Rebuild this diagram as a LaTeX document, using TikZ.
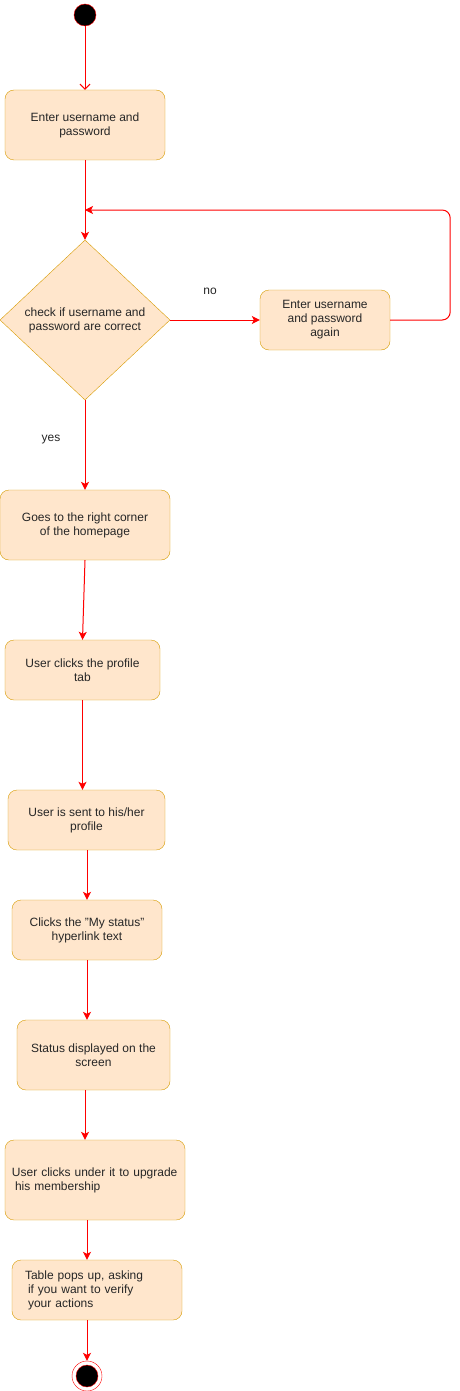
\documentclass[tikz,border=0pt]{standalone}
\usepackage{fontspec}
\setmainfont{Liberation Sans}
\usetikzlibrary{arrows.meta,shapes.geometric}
\definecolor{StateFill}{HTML}{ffe6cc}
\definecolor{StateLine}{HTML}{d79b00}
\definecolor{Flow}{HTML}{ff0000}

\begin{document}
\begin{tikzpicture}[x=1pt, y=-1pt,
                    every node/.style = { font=\fontsize{12}{14}\selectfont, text=black!85 },
                    activity/.style = { draw=StateLine, fill=StateFill, rounded corners=9pt, align=center, inner sep=0pt },
                    choice/.style = { diamond, draw=StateLine, fill=StateFill, align=center, inner sep=0pt },
                    flow/.style = { draw=Flow, line width=1pt, -{Stealth[length=8pt, width=8pt, inset=2pt]} },
                    openflow/.style = { draw=Flow, line width=1pt, -{Straight Barb[length=5pt, width=10pt]} },
                    startdot/.style = { circle, fill=black, draw=Flow, minimum size=22pt, inner sep=0pt },
                    edgetext/.style = { inner sep=0pt, midway }]

  \useasboundingbox (0,0) rectangle (459,1391);

  \node (start) at(85,15) [startdot] {};
  \node (enter) at(85,125) [activity, minimum width=160pt, minimum height=70pt] {Enter username and\\password};
  \node (check) at(85,320) [choice, minimum width=170pt, minimum height=160pt] {check if username and\\password are correct};
  \node (again) at(325,320) [activity, minimum width=130pt, minimum height=60pt] {Enter username\\and password\\again};
  \node (corner) at(85,525) [activity, minimum width=170pt, minimum height=70pt] {Goes to the right corner\\of the homepage};
  \node (tab) at(82.5,670) [activity, minimum width=155pt, minimum height=60pt] {User clicks the profile\\tab};
  \node (sent) at(86.5,820) [activity, minimum width=157pt, minimum height=60pt] {User is sent to his/her\\profile};
  \node (link) at(87,930) [activity, minimum width=150pt, minimum height=60pt] {Clicks the "My status"\\hyperlink text};
  \node (shown) at(93.5,1055) [activity, minimum width=153pt, minimum height=70pt] {Status displayed on the\\screen};
  \node (upgrade) at(95,1180) [activity, minimum height=80pt, text width=166pt, inner xsep=7pt, align=left]
        {User clicks under it to upgrade\\\hspace*{3pt}his membership};
  \node (verify) at(97,1290) [activity, minimum height=60pt, text width=144pt, inner xsep=13pt, align=left]
        {Table pops up, asking\\\hspace*{3pt}if you want to verify\\\hspace*{3pt}your actions};
  \node (stop) at(87,1376) [circle, draw=Flow, fill=white, minimum size=30pt, inner sep=0pt,
        path picture={\fill[black, draw=Flow] (path picture bounding box.center) circle (11pt);}] {};

  \coordinate (merge) at(85,210);

  \draw [openflow] (start) -- (enter);
  \draw [flow] (enter) -- (check);
  \draw [flow] (check.east) -- (again.west) node[edgetext, xshift=-5pt, yshift=29pt] {no};
  \draw [flow, rounded corners=8pt] (again.east) -- ++(60,0) |- (merge);
  \draw [flow] (check.south) -- (corner.north) node[edgetext, xshift=-34pt, yshift=5pt] {yes};
  \draw [flow] (corner.south) -- (tab.north);
  \draw [flow] (tab.south) -- (tab.south |- sent.north);
  \draw [flow] (sent.south -| stop) -- (link.north -| stop);
  \draw [flow] (link.south -| stop) -- (shown.north -| stop);
  \draw [flow] (shown.south -| start) -- (upgrade.north -| start);
  \draw [flow] (upgrade.south -| stop) -- (verify.north -| stop);
  \draw [flow] (verify.south -| stop) -- (stop);
\end{tikzpicture}
\end{document}
